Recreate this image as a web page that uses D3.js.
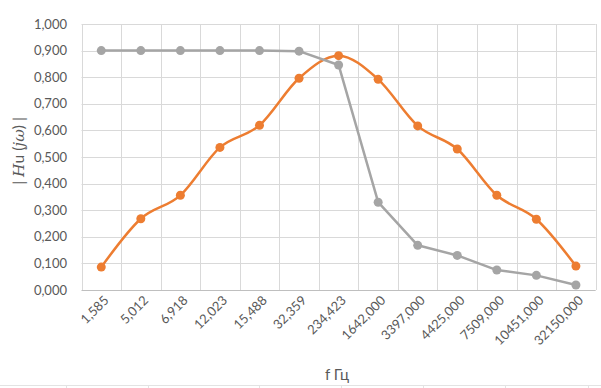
<!DOCTYPE html>
<html><head><meta charset="utf-8">
<script src="https://cdn.jsdelivr.net/npm/d3@7"></script>
<style>
body{margin:0;background:#fff;}
svg{display:block;}
</style></head>
<body><svg id="c" width="601" height="388"></svg>
<script>
const categories = ["1,585","5,012","6,918","12,023","15,488","32,359","234,423","1642,000","3397,000","4425,000","7509,000","10451,000","32150,000"];
const orangeValues = [0.086,0.268,0.356,0.536,0.619,0.796,0.881,0.792,0.617,0.530,0.356,0.266,0.090];
const greyValues = [0.900,0.900,0.900,0.900,0.900,0.898,0.846,0.330,0.168,0.130,0.075,0.055,0.019];
const yTicks = [0,0.1,0.2,0.3,0.4,0.5,0.6,0.7,0.8,0.9,1.0];
const sheetCols = [66,148,259,341,423,505,588];

const svg = d3.select("#c");
const L = 81.5, R = 595.7, T = 24, B = 290;
const x = d3.scaleBand().domain(categories).range([L,R]);
const y = d3.scaleLinear().domain([0,1]).range([B,T]);
const font = "Lato, 'Open Sans', sans-serif";
const fmt = v => d3.format(".3f")(v).replace(".", ",");

// faint spreadsheet cell lines at bottom
svg.append("line").attr("x1",0).attr("x2",601).attr("y1",385.5).attr("y2",385.5).attr("stroke","#e3e3e3");
svg.selectAll("line.sc").data(sheetCols).join("line").attr("class","sc")
  .attr("x1",d=>d+0.5).attr("x2",d=>d+0.5).attr("y1",385.5).attr("y2",388).attr("stroke","#e3e3e3");

// horizontal gridlines
svg.append("g").selectAll("line").data(yTicks.slice(1)).join("line")
  .attr("x1",L).attr("x2",R).attr("y1",d=>Math.round(y(d))+0.5).attr("y2",d=>Math.round(y(d))+0.5)
  .attr("stroke","#d9d9d9").attr("stroke-width",1);
// vertical gridlines
const vb = categories.map(c=>x(c)).concat([R]);
svg.append("g").selectAll("line").data(vb).join("line")
  .attr("x1",d=>Math.round(d)+0.5).attr("x2",d=>Math.round(d)+0.5).attr("y1",T).attr("y2",B)
  .attr("stroke","#d9d9d9").attr("stroke-width",1);
// bottom axis line
svg.append("line").attr("x1",L).attr("x2",R).attr("y1",B+0.5).attr("y2",B+0.5).attr("stroke","#bfbfbf");

// y tick labels
svg.append("g").selectAll("text").data(yTicks).join("text")
  .attr("x",67).attr("y",d=>y(d)).attr("dy","0.35em").attr("text-anchor","end")
  .attr("font-family",font).attr("font-size",13).attr("fill","#595959").text(fmt);

// x tick labels
svg.append("g").selectAll("text").data(categories).join("text")
  .attr("transform",d=>`translate(${x(d)+x.bandwidth()/2+5},${B+8}) rotate(-45)`)
  .attr("text-anchor","end").attr("dy","0.35em")
  .attr("font-family",font).attr("font-size",13).attr("fill","#595959").text(d=>d);

// axis titles
svg.append("text").attr("x",337).attr("y",380).attr("text-anchor","middle")
  .attr("font-family",font).attr("font-size",15).attr("fill","#595959").text("f Гц");
const yt = svg.append("text").attr("transform","translate(24,151) rotate(-90)").attr("text-anchor","middle")
  .attr("font-family",font).attr("font-size",15.5).attr("fill","#595959");
yt.append("tspan").text("| ");
yt.append("tspan").attr("font-family","'DejaVu Serif', serif").attr("font-style","italic").text("H");
yt.append("tspan").text("u (");
yt.append("tspan").attr("font-family","'DejaVu Serif', serif").attr("font-style","italic").text("jω");
yt.append("tspan").text(") |");

const cx = (d,i) => x(categories[i]) + x.bandwidth()/2;

// orange series (smoothed)
const lineO = d3.line().x((d,i)=>cx(d,i)).y(d=>y(d)).curve(d3.curveCatmullRom.alpha(0));
svg.append("path").attr("d",lineO(orangeValues)).attr("fill","none").attr("stroke","#ed7d31").attr("stroke-width",2.5).attr("stroke-linecap","round");
svg.append("g").selectAll("circle").data(orangeValues).join("circle")
  .attr("cx",(d,i)=>cx(d,i)).attr("cy",d=>y(d)).attr("r",4.5).attr("fill","#ed7d31");

// grey series (straight)
const lineG = d3.line().x((d,i)=>cx(d,i)).y(d=>y(d));
svg.append("path").attr("d",lineG(greyValues)).attr("fill","none").attr("stroke","#a5a5a5").attr("stroke-width",2.5).attr("stroke-linejoin","round");
svg.append("g").selectAll("circle").data(greyValues).join("circle")
  .attr("cx",(d,i)=>cx(d,i)).attr("cy",d=>y(d)).attr("r",4.5).attr("fill","#a5a5a5");
</script></body></html>
